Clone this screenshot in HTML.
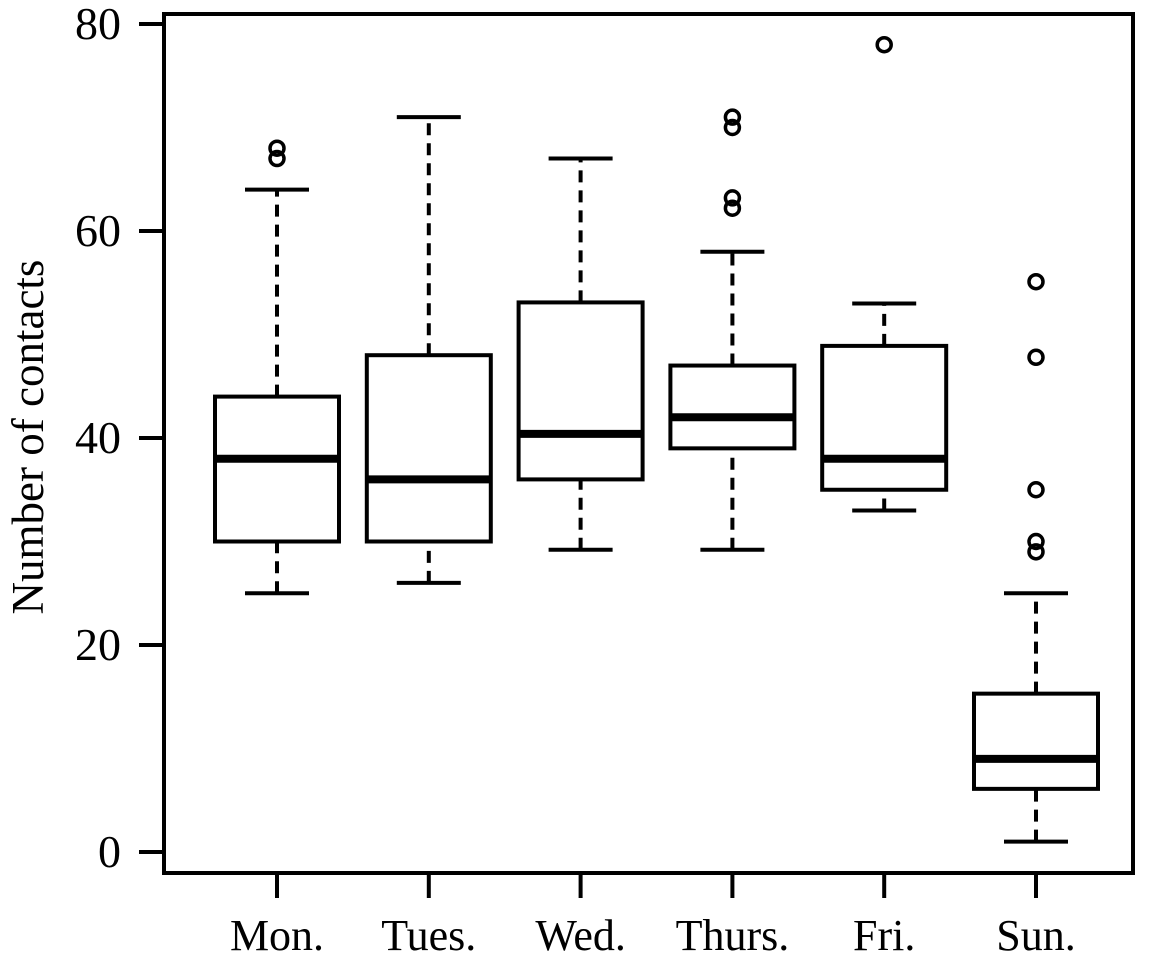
<!DOCTYPE html>
<html><head><meta charset="utf-8"><style>
body{margin:0;background:#fff}
svg text{font-family:"Liberation Serif",serif;fill:#000}
</style></head><body>
<svg id="chart" width="1150" height="959" viewBox="0 0 1150 959" xmlns="http://www.w3.org/2000/svg">
<rect x="164" y="14" width="969" height="859" fill="none" stroke="#000" stroke-width="4"/>
<text transform="translate(43,437) rotate(-90)" text-anchor="middle" font-size="45">Number of contacts</text>
<g id="marks"></g>
</svg>
<script>
const categories=["Mon.","Tues.","Wed.","Thurs.","Fri.","Sun."];
const whiskerLow=[25,26,29.2,29.2,33,1];
const q1=[30,30,36,39,35,6.1];
const medians=[38,36,40.4,42,38,9];
const q3=[44,48,53.1,47,48.9,15.3];
const whiskerHigh=[64,71,67,58,53,25];
const outliers=[[67,68],[],[],[62.2,63.2,70,71],[78],[29,30,35,47.8,55.1]];
const yTicks=[0,20,40,60,80];
const svg=document.getElementById('chart'),g=document.getElementById('marks');
const NS='http://www.w3.org/2000/svg';
const y=v=>852-v*(828/80);
const x=i=>277+i*151.8;
function mk(tag,attrs,name){const e=document.createElementNS(NS,tag);for(const k in attrs)e.setAttribute(k,attrs[k]);


g.appendChild(e);return e;}
yTicks.forEach(t=>{
mk('line',{x1:139,x2:164,y1:y(t),y2:y(t),stroke:'#000','stroke-width':4},'y-tick');
const tx=mk('text',{x:121,y:y(t)+15,'text-anchor':'end','font-size':46},'y-tick-label');tx.textContent=t;});
categories.forEach((c,i)=>{
const cx=x(i);
mk('line',{x1:cx,x2:cx,y1:873,y2:898,stroke:'#000','stroke-width':4},'x-tick');
const tx=mk('text',{x:cx,y:950,'text-anchor':'middle','font-size':44},'x-tick-label');tx.textContent=c;
const hw=62,cw=32;
mk('line',{x1:cx,x2:cx,y1:y(whiskerLow[i]),y2:y(q1[i]),stroke:'#000','stroke-width':4,'stroke-dasharray':'12,8'},'lower-whisker');
mk('line',{x1:cx,x2:cx,y1:y(q3[i]),y2:y(whiskerHigh[i]),stroke:'#000','stroke-width':4,'stroke-dasharray':'12,8'},'upper-whisker');
mk('line',{x1:cx-cw,x2:cx+cw,y1:y(whiskerLow[i]),y2:y(whiskerLow[i]),stroke:'#000','stroke-width':4},'lower-cap');
mk('line',{x1:cx-cw,x2:cx+cw,y1:y(whiskerHigh[i]),y2:y(whiskerHigh[i]),stroke:'#000','stroke-width':4},'upper-cap');
mk('rect',{x:cx-hw,y:y(q3[i]),width:2*hw,height:y(q1[i])-y(q3[i]),fill:'none',stroke:'#000','stroke-width':4},'box');
mk('line',{x1:cx-hw,x2:cx+hw,y1:y(medians[i]),y2:y(medians[i]),stroke:'#000','stroke-width':8},'median-line');
outliers[i].forEach(o=>mk('circle',{cx:cx,cy:y(o),r:7,fill:'none',stroke:'#000','stroke-width':3.5},'outlier-point'));
});
</script>
</body></html>
